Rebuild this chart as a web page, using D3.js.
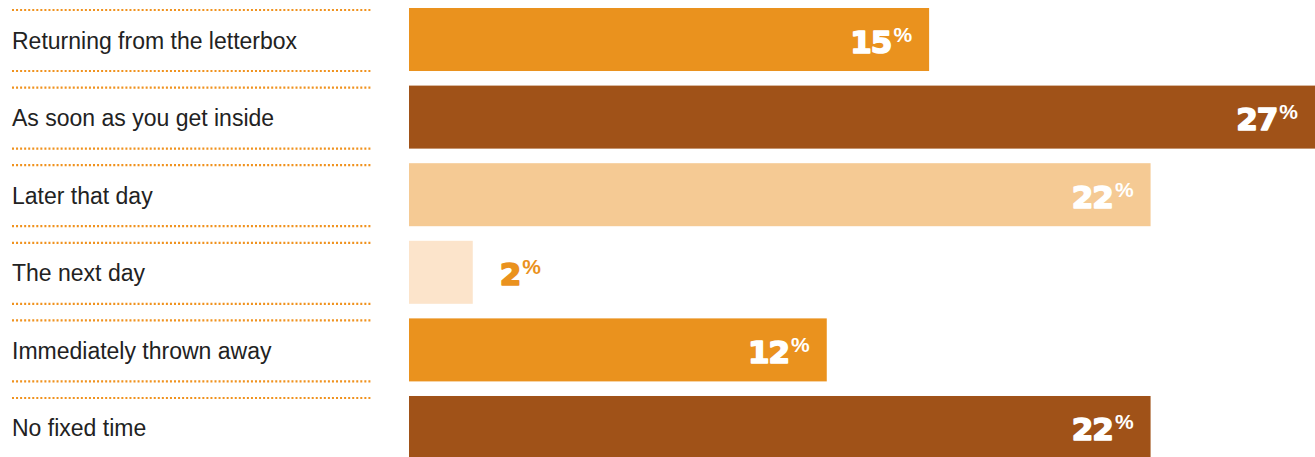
<!DOCTYPE html>
<html><head><meta charset="utf-8">
<script src="https://cdn.jsdelivr.net/npm/d3@7"></script>
<style>html,body{margin:0;padding:0;background:#fff;overflow:hidden}</style>
</head><body><svg id="c" width="1315" height="457"></svg>
<script>
const categories = ["Returning from the letterbox","As soon as you get inside","Later that day","The next day","Immediately thrown away","No fixed time"];
const values = [15.5, 27, 22.1, 1.9, 12.45, 22.1];
const labels = ["15","27","22","2","12","22"];
const colors = ["#EA921E","#A05218","#F5CA94","#FCE4CB","#EA921E","#A05218"];
const labelColors = ["#fff","#fff","#fff","#EA921E","#fff","#fff"];
const inside = [true,true,true,false,true,true];

const svg = d3.select("#c");
const x = d3.scaleLinear().domain([0,27]).range([409,1315]);
const y = d3.scaleBand().domain(categories).range([8,459]).paddingInner(0.188).paddingOuter(0);

// dotted separators
const g = svg.append("g");
categories.forEach(c=>{
  const t = y(c), b = y(c)+y.bandwidth();
  [t+2, b].forEach(yy=>{
    g.append("line").attr("x1",12).attr("x2",372).attr("y1",yy).attr("y2",yy)
     .attr("stroke","#F0921E").attr("stroke-width",2.2).attr("stroke-dasharray","2,2.05");
  });
});

// category labels
svg.append("g").selectAll("text").data(categories).join("text")
  .attr("x",12).attr("y",d=>y(d)+y.bandwidth()/2+9)
  .attr("font-family","'Liberation Sans', Arial, sans-serif").attr("font-size",23)
  .attr("fill","#222").text(d=>d);

// bars
svg.append("g").selectAll("rect").data(categories).join("rect")
  .attr("x",x(0)).attr("y",d=>y(d)).attr("height",y.bandwidth())
  .attr("width",(d,i)=>x(values[i])-x(0)).attr("fill",(d,i)=>colors[i]);

// value labels
const vl = svg.append("g").selectAll("text").data(categories).join("text")
  .attr("x",(d,i)=> inside[i] ? x(values[i])-17 : x(values[i])+27)
  .attr("text-anchor",(d,i)=> inside[i] ? "end" : "start")
  .attr("y",d=>y(d)+y.bandwidth()/2+13)
  .attr("fill",(d,i)=>labelColors[i]);
vl.append("tspan").attr("font-family","'DejaVu Sans', sans-serif").attr("font-weight","bold")
  .attr("font-size",31).attr("letter-spacing",-1)
  .attr("stroke",(d,i)=>labelColors[i]).attr("stroke-width",1.6).attr("stroke-linejoin","round")
  .text((d,i)=>labels[i]);
vl.append("tspan").attr("font-family","'Liberation Sans', Arial, sans-serif").attr("font-weight","bold")
  .attr("font-size",21).attr("dx",2).attr("dy",-11).text("%");
</script></body></html>
